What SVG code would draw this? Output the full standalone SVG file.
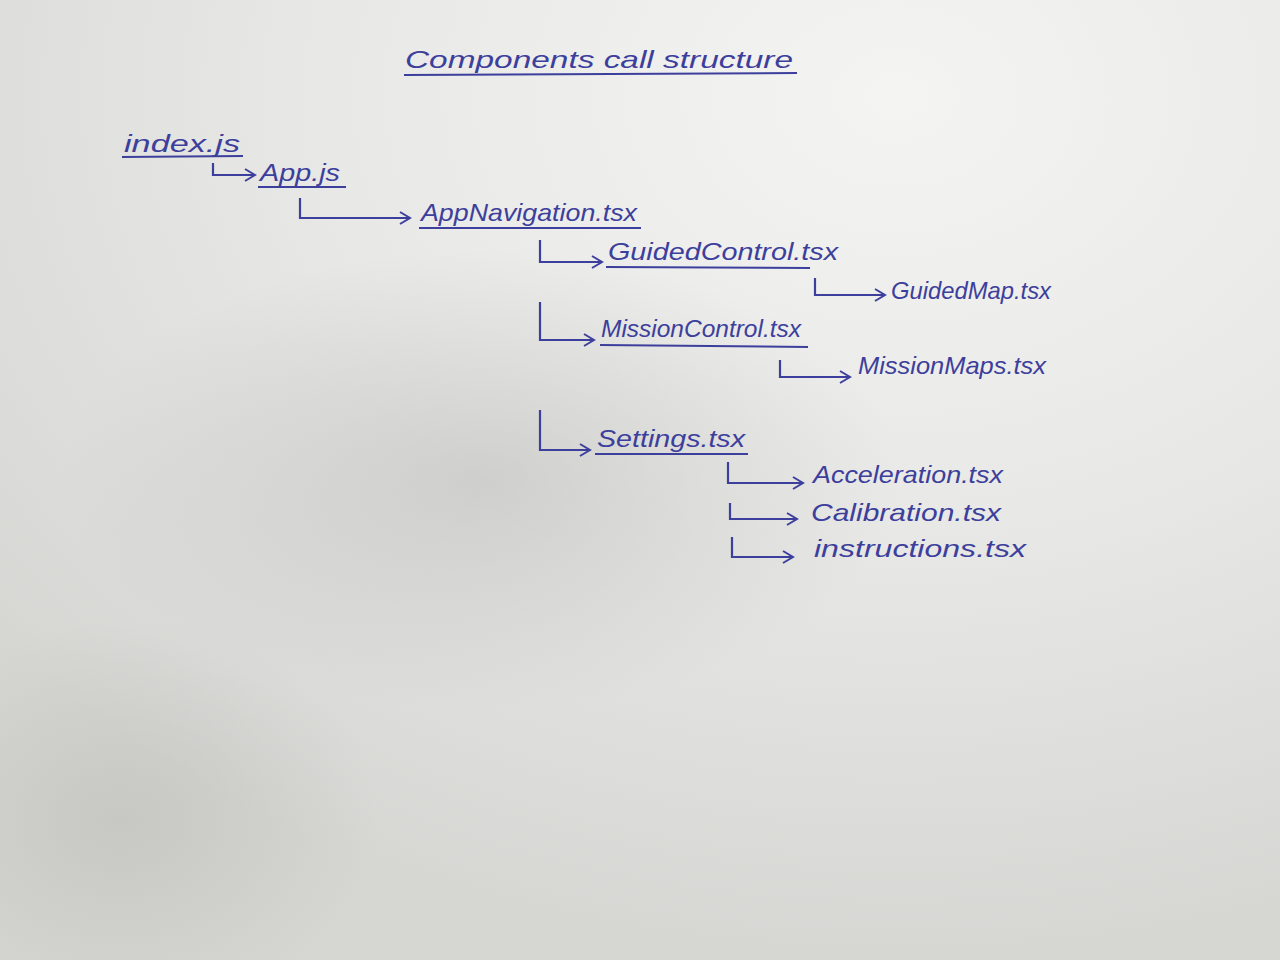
<svg xmlns="http://www.w3.org/2000/svg" width="1280" height="960" viewBox="0 0 1280 960">
<defs>
<radialGradient id="light" cx="0.7" cy="0.1" r="0.9">
<stop offset="0" stop-color="#f4f4f2"/>
<stop offset="0.5" stop-color="#e8e8e6"/>
<stop offset="1" stop-color="#d6d6d3"/>
</radialGradient>
<radialGradient id="shade" cx="0.5" cy="0.5" r="0.5">
<stop offset="0" stop-color="#b8b8b5" stop-opacity="0.5"/>
<stop offset="1" stop-color="#b8b8b5" stop-opacity="0"/>
</radialGradient>
<marker id="arr" viewBox="0 0 14 14" refX="12" refY="7" markerWidth="14" markerHeight="14" markerUnits="userSpaceOnUse" orient="auto">
<path d="M2,1 L12,7 L2,13" fill="none" stroke="#3d3f9c" stroke-width="2"/>
</marker>
<style>
.t{font-family:"Liberation Sans","DejaVu Sans",sans-serif;font-style:italic;fill:#3d3f9c;font-size:24px}
.u{stroke:#3d3f9c;stroke-width:2;fill:none}
.c{stroke:#3d3f9c;stroke-width:2.2;fill:none;marker-end:url(#arr)}
</style>
</defs>
<rect width="1280" height="960" fill="url(#light)"/>
<ellipse cx="480" cy="480" rx="420" ry="230" fill="url(#shade)"/>
<ellipse cx="120" cy="820" rx="260" ry="200" fill="url(#shade)"/>

<g id="title">
<text class="t" x="405" y="68" font-size="28" textLength="388" lengthAdjust="spacingAndGlyphs">Components call structure</text>
<line class="u" x1="404" y1="75" x2="797" y2="73"/>
</g>

<g id="connectors">
<path class="c" d="M213,163 L213,175 L255,175"/>
<path class="c" d="M300,198 L300,218 L410,218"/>
<path class="c" d="M540,240 L540,262 L602,262"/>
<path class="c" d="M815,278 L815,295 L885,295"/>
<path class="c" d="M540,302 L540,340 L594,340"/>
<path class="c" d="M780,360 L780,377 L850,377"/>
<path class="c" d="M540,410 L540,450 L590,450"/>
<path class="c" d="M728,462 L728,483 L803,483"/>
<path class="c" d="M730,503 L730,519 L797,519"/>
<path class="c" d="M732,537 L732,557 L793,557"/>
</g>

<g id="index">
<text class="t" x="124" y="152" font-size="26" textLength="116" lengthAdjust="spacingAndGlyphs">index.js</text>
<line class="u" x1="122" y1="157" x2="243" y2="156"/>
</g>
<g id="app">
<text class="t" x="260" y="181" textLength="80" lengthAdjust="spacingAndGlyphs">App.js</text>
<line class="u" x1="258" y1="187" x2="346" y2="187"/>
</g>
<g id="appnavigation">
<text class="t" x="421" y="221" textLength="216" lengthAdjust="spacingAndGlyphs">AppNavigation.tsx</text>
<line class="u" x1="419" y1="228" x2="641" y2="228"/>
</g>
<g id="guidedcontrol">
<text class="t" x="608" y="260" textLength="230" lengthAdjust="spacingAndGlyphs">GuidedControl.tsx</text>
<line class="u" x1="606" y1="267" x2="810" y2="268"/>
</g>
<g id="guidedmap">
<text class="t" x="891" y="299" textLength="160" lengthAdjust="spacingAndGlyphs">GuidedMap.tsx</text>
</g>
<g id="missioncontrol">
<text class="t" x="601" y="337" textLength="200" lengthAdjust="spacingAndGlyphs">MissionControl.tsx</text>
<line class="u" x1="600" y1="345" x2="808" y2="347"/>
</g>
<g id="missionmaps">
<text class="t" x="858" y="374" textLength="188" lengthAdjust="spacingAndGlyphs">MissionMaps.tsx</text>
</g>
<g id="settings">
<text class="t" x="597" y="447" textLength="148" lengthAdjust="spacingAndGlyphs">Settings.tsx</text>
<line class="u" x1="595" y1="454" x2="748" y2="454"/>
</g>
<g id="acceleration">
<text class="t" x="813" y="483" textLength="190" lengthAdjust="spacingAndGlyphs">Acceleration.tsx</text>
</g>
<g id="calibration">
<text class="t" x="811" y="521" textLength="190" lengthAdjust="spacingAndGlyphs">Calibration.tsx</text>
</g>
<g id="instructions">
<text class="t" x="814" y="557" textLength="212" lengthAdjust="spacingAndGlyphs">instructions.tsx</text>
</g>
</svg>
